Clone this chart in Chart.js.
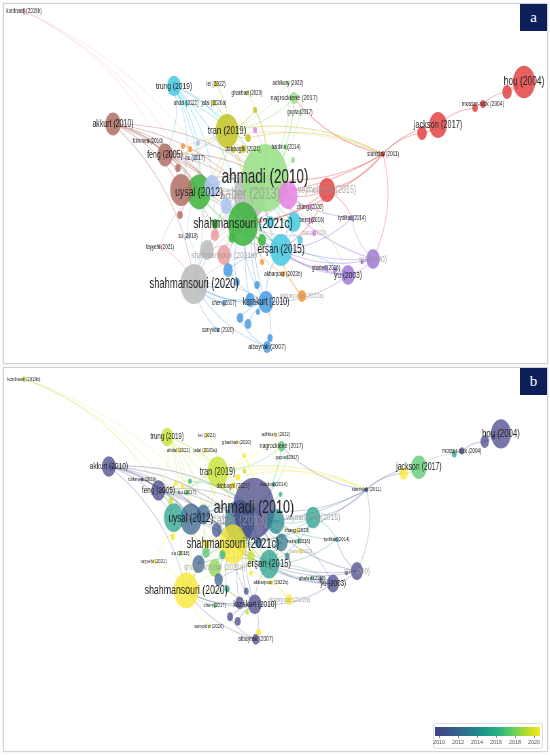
<!DOCTYPE html>
<html>
<head>
<meta charset="utf-8">
<script src="https://cdn.jsdelivr.net/npm/chart.js@4.4.0/dist/chart.umd.min.js"></script>
<style>
html,body{margin:0;padding:0;background:#fff;width:550px;height:755px;overflow:hidden;font-family:"Liberation Sans",Arial,sans-serif}
.panel{position:absolute;left:3px;width:543px;border:1px solid #d2d2d2;box-shadow:0 0 2px rgba(0,0,0,0.12);background:#fff;overflow:hidden}
#pa{top:3px;height:359px}
#pb{top:367px;height:383px}
.squish{position:absolute;left:0;top:0;transform-origin:0 0}
.tag{position:absolute;right:0;top:0;width:27px;height:27px;background:#0c1f5b;color:#fff;font-family:"Liberation Serif","DejaVu Serif",serif;font-size:15px;line-height:26px;text-align:center}
#cbar{position:absolute;left:433px;top:723px;width:108px;height:24px;border:1px solid #dcdcdc;border-radius:3px;background:#fff}
#cgrad{position:absolute;left:1px;top:3px;width:105px;height:9px}
.ctick{position:absolute;font-size:5.5px;color:#555;transform:translateX(-50%);top:15px;white-space:nowrap}
.cmark{position:absolute;top:12px;width:0.6px;height:2px;background:#888}
</style>
</head>
<body>
<div class="panel" id="pa"><div class="squish" id="sa"><canvas id="ca"></canvas></div><div class="tag">a</div></div>
<div class="panel" id="pb"><div class="squish" id="sb"><canvas id="cb"></canvas></div><div class="tag">b</div></div>
<div id="cbar"><div id="cgrad"></div></div>
<script>
// ---------------- DATA ----------------
const nodeLabels = [
 'saber (2013)','ahmadi (2010)','shahmansouri (2021c)','shahmansouri (2020)','uysal (2012)','','erşan (2015)','hou (2004)','','tran (2019)',
 'jackson (2017)','vejmelková (2015)','','akkurt (2010)','feng (2005)','karakurt (2010)','trung (2019)','yu (2003)','su (2000)','',
 '','shahmansouri (2021a)','','','','','','albayrak (2007)','nagrockienė (2017)','',
 '','','akbarpour (2022a)','','','','','mosser-ruck (2004)','','',
 '','','','','','','','','','',
 'dabbaghi (2021)','','','','','','','','stanislav (2011)','kordnaeij (2019b)',
 'tydlitát (2014)','zhang (2020)','beraj (2016)','barış (2020)','ghafari (2016)','akbarpour (2022b)','chen (2017)','sarıyıldız (2020)','tayyebi (2021)','su (2018)',
 'hu (2017)','türkmen (2010)','baldino (2014)','lei (2022)','ahdal (2022)','jalal (2020a)','ghanbari (2020)','adhikary (2022)','gupta (2017)',''
];
// map coordinates (VOSviewer layout units)
const nodeX = [
 250,265,243,194,199,181,281,524,288,227,
 438,327,212,113,165,266,174,348,373,294,
 207,224,226,228,250,422,507,267,294,262,
 215,270,302,240,248,232,215,483,475,257,
 270,237,248,178,180,300,516,233,255,183,
 243,190,198,262,335,293,255,258,383,24,
 352,310,312,314,326,283,224,218,160,188,
 195,148,286,216,186,214,247,288,300,362
];
const nodeY = [
 195,178,224,284,192,190,250,82,195,131,
 125,190,186,124,155,302,86,275,259,222,
 250,255,206,270,300,133,92,347,98,240,
 235,222,296,318,324,238,224,104,108,285,
 338,282,138,168,215,240,86,150,130,146,
 149,149,143,262,270,160,110,312,154,11,
 218,207,220,233,268,274,303,330,247,236,
 158,141,147,84,103,103,93,83,112,262
];
// weights (citations)
const nodeCitations = [
 400,800,336,278,210,178,178,185,136,200,
 117,100,84,90,90,84,72,69,69,69,
 69,69,44,34,34,34,34,25,25,25,
 25,25,25,17,17,17,17,11,11,11,
 11,11,11,11,11,11,6,6,6,6,
 11,6,6,6,6,6,6,6,6,6,
 6,6,6,6,6,6,6,4,4,6,
 6,4,6,6,4,6,4,4,4,4
];
const nodeCluster = [
 11,10,2,11,2,8,6,1,9,4,
 1,1,13,8,8,3,6,5,5,6,
 11,12,13,3,3,1,1,3,10,2,
 12,6,7,3,3,2,2,1,1,3,
 3,3,4,8,8,6,1,4,9,7,
 4,7,13,7,5,10,4,3,1,14,
 5,9,9,9,5,7,3,3,12,13,
 13,8,10,4,6,4,4,10,10,5
];
// average publication year (overlay)
const nodeYear = [
 2013,2010,2021,2020,2012,2015,2015,2004,2014,2019,
 2017,2015,2012,2010,2005,2010,2019,2003,2000,2013,
 2012,2018,2011,2012,2009,2020,2009,2007,2017,2019,
 2017,2012,2022,2009,2010,2016,2020,2004,2015,2011,
 2020,2015,2020,2019,2020,2013,2010,2021,2019,2020,
 2021,2021,2016,2021,2012,2016,2021,2019,2011,2019,
 2014,2020,2016,2020,2016,2022,2017,2020,2021,2018,
 2017,2010,2014,2022,2022,2020,2020,2022,2017,2010
];
// links between documents (index pairs)
const edgeFrom = [59,59,13,13,13,13,13,16,16,16,16,16,16,73,75,74,74,76,77,58,28,78,58,58,58,58,58,58,10,10,38,37,26,7,46,11,11,11,11,18,18,18,18,17,17,17,17,17,15,15,15,15,15,15,27,27,67,66,68,69,70,71,50,50,72,9,9,9,9,14,14,14,14,4,4,4,3,3,3,6,6,6,2,0,8,19,19,60,61,62,63,64,65,32,32,21,21,12,22,20,23,24,39,29,30,31,33,34,35,36,40,41,42,43,44,45,47,48,49,51,52,53,54,55,56,57,79,5,5,16,13,60,58,
 49,42,13,13,16,9,9,14,14,4,4,3,3,6,6,15,15,2,2,1,1,11,18,28,28,77,56,47,12,12,22,20,20,23,24,41,35,36,29,30,31,19,8,8,59,68,69,70,71];
const edgeTo   = [14,4,14,4,1,5,2,9,1,4,14,3,5,9,9,9,16,1,1,28,1,1,1,10,25,11,18,4,25,38,37,26,7,46,26,1,6,60,8,17,60,6,1,6,15,2,64,54,27,6,3,1,24,2,3,33,3,3,4,4,14,14,9,1,1,1,2,4,14,4,1,5,0,1,2,0,1,2,0,1,2,0,1,1,1,1,6,1,1,1,2,6,2,6,1,2,1,1,1,2,6,1,1,1,4,1,15,15,1,1,27,3,9,14,4,1,1,1,14,4,1,1,17,1,9,15,18,1,2,2,3,6,2,
 58,58,12,0,12,58,12,12,2,12,5,6,15,19,17,24,23,6,19,6,17,2,2,2,9,9,1,2,2,3,2,6,1,2,3,2,2,4,4,2,2,2,2,6,2,3,3,9,4];

const yearTicks = [2010,2012,2014,2016,2018,2020];
const yearRange = [2010,2020];

// ---------------- STYLE ----------------
const clusterPalette = {1:'#e24a4a',2:'#41b541',3:'#4f9ee3',4:'#c5c52a',5:'#a47ed9',6:'#4ccbe3',7:'#f29a38',8:'#b3736b',9:'#e685e3',10:'#9be08a',11:'#bdbdbd',12:'#ea9f9f',13:'#aec6f3',14:'#f2a7c8'};
const fadedLabels = new Set(['vejmelková (2015)','su (2000)','shahmansouri (2021a)','akbarpour (2022a)','barış (2020)','saber (2013)']);
const viridisStops = [[0,[65,66,135]],[0.2,[53,95,141]],[0.4,[36,135,142]],[0.5,[31,158,137]],[0.6,[42,176,127]],[0.7,[82,197,105]],[0.8,[134,213,73]],[0.9,[194,223,35]],[1,[250,230,35]]];

function hexRgb(h){return [parseInt(h.slice(1,3),16),parseInt(h.slice(3,5),16),parseInt(h.slice(5,7),16)];}
function rgba(c,a){return `rgba(${c[0]},${c[1]},${c[2]},${a})`;}
function yearRgb(yr){
  let t=(Math.min(Math.max(yr,yearRange[0]),yearRange[1])-yearRange[0])/(yearRange[1]-yearRange[0]);
  for(let k=1;k<viridisStops.length;k++){
    const [t0,c0]=viridisStops[k-1],[t1,c1]=viridisStops[k];
    if(t<=t1){const f=(t-t0)/(t1-t0);return c0.map((v,j)=>Math.round(v+(c1[j]-v)*f));}
  }
  return viridisStops[viridisStops.length-1][1];
}
function radiusOf(i){return 1.2*Math.sqrt(nodeCitations[i]);}

const SQ_W = 799; // internal canvas width, squeezed to 543 px
const SQ = 543/SQ_W;

const panels = [
  {canvas:'ca', wrap:'sa', h:359, mode:'cluster', xMin:4, xMax:547, yMin:4, yMax:363, rScale:1, fScale:1, nodeAlpha:0.88, edgeAlpha:0.4},
  {canvas:'cb', wrap:'sb', h:383, mode:'year', xMin:3.1, xMax:572.3, yMin:-3.0, yMax:491.2, rScale:0.9, fScale:0.93, nodeAlpha:0.72, edgeAlpha:0.27}
];

function build(cfg){
  const wrap=document.getElementById(cfg.wrap);
  wrap.style.width=SQ_W+'px'; wrap.style.height=cfg.h+'px';
  wrap.style.transform=`scaleX(${SQ})`;
  const cv=document.getElementById(cfg.canvas);
  cv.width=SQ_W; cv.height=cfg.h;
  const colorOf = i => cfg.mode==='cluster' ? hexRgb(clusterPalette[nodeCluster[i]]) : yearRgb(nodeYear[i]);
  const points = nodeLabels.map((l,i)=>({x:nodeX[i], y:nodeY[i], r:radiusOf(i)*cfg.rScale}));
  const edgePlugin = {
    id:'edges',
    beforeDatasetsDraw(chart){
      const {ctx,scales:{x,y}}=chart;
      ctx.save(); ctx.lineWidth=1.1;
      edgeFrom.forEach((a,k)=>{
        const b=edgeTo[k];
        const x1=x.getPixelForValue(nodeX[a])*SQ, y1=y.getPixelForValue(nodeY[a]);
        const x2=x.getPixelForValue(nodeX[b])*SQ, y2=y.getPixelForValue(nodeY[b]);
        const dx=x2-x1, dy=y2-y1;
        const mx=(x1+x2)/2+dy*0.18, my=(y1+y2)/2-dx*0.18;
        const len=Math.hypot(dx,dy);
        const al=cfg.edgeAlpha*(len>200?0.6:1);
        ctx.strokeStyle=rgba(colorOf(a),al);
        ctx.beginPath(); ctx.moveTo(x1/SQ,y1); ctx.quadraticCurveTo(mx/SQ,my,x2/SQ,y2); ctx.stroke();
      });
      ctx.restore();
    }
  };
  const labelPlugin = {
    id:'nodeLabels',
    afterDatasetsDraw(chart){
      const {ctx,scales:{x,y}}=chart;
      ctx.save(); ctx.textAlign='center'; ctx.textBaseline='middle';
      const idx=nodeLabels.map((l,i)=>i).filter(i=>nodeLabels[i]).sort((p,q)=>nodeCitations[p]-nodeCitations[q]);
      idx.forEach(i=>{
        const fs=(5.5+0.42*Math.min(radiusOf(i),34))*cfg.fScale - (nodeLabels[i]==='tran (2019)'?1:0);
        ctx.font=`${fs.toFixed(2)}px "Liberation Sans", Arial, sans-serif`;
        ctx.fillStyle=fadedLabels.has(nodeLabels[i])?'rgba(150,150,150,0.8)':'#222';
        ctx.fillText(nodeLabels[i], x.getPixelForValue(nodeX[i]), y.getPixelForValue(nodeY[i]));
      });
      ctx.restore();
    }
  };
  new Chart(cv,{
    type:'bubble',
    data:{datasets:[{data:points, backgroundColor:nodeLabels.map((l,i)=>rgba(colorOf(i),cfg.nodeAlpha)), borderWidth:0, hoverRadius:0}]},
    options:{
      responsive:false, animation:false, events:[], devicePixelRatio: window.devicePixelRatio||1,
      layout:{padding:0, autoPadding:false},
      scales:{
        x:{type:'linear',min:cfg.xMin,max:cfg.xMax,display:false},
        y:{type:'linear',min:cfg.yMin,max:cfg.yMax,reverse:true,display:false}
      },
      plugins:{legend:{display:false},tooltip:{enabled:false}}
    },
    plugins:[edgePlugin,labelPlugin]
  });
}
panels.forEach(build);

// colour legend for overlay panel
(function(){
  const g=document.getElementById('cgrad');
  g.style.background='linear-gradient(to right,'+viridisStops.map(([t,c])=>`rgb(${c[0]},${c[1]},${c[2]}) ${t*100}%`).join(',')+')';
  const bar=document.getElementById('cbar');
  yearTicks.forEach(yr=>{
    const f=(yr-yearRange[0])/(yearRange[1]-yearRange[0]);
    const px=5+f*95;
    const m=document.createElement('div'); m.className='cmark'; m.style.left=px+'px'; bar.appendChild(m);
    const t=document.createElement('div'); t.className='ctick'; t.style.left=px+'px'; t.textContent=yr; bar.appendChild(t);
  });
})();
</script>
</body>
</html>
